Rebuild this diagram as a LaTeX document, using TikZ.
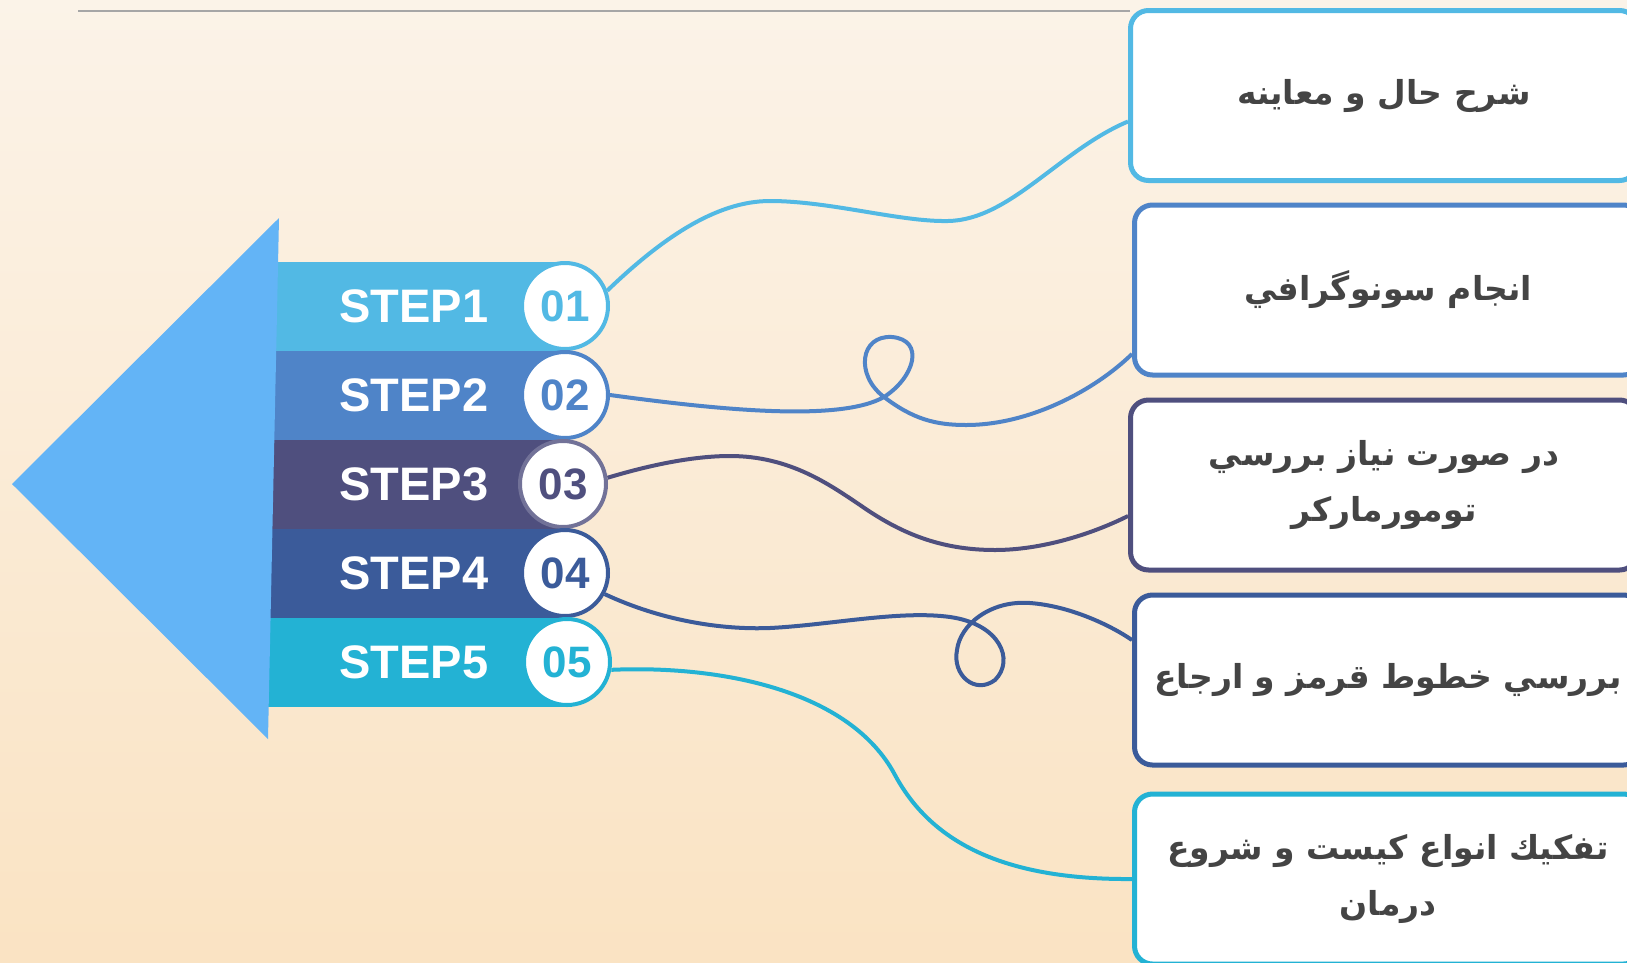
\documentclass[tikz,border=0pt]{standalone}
\usepackage{fontspec}
\setmainfont{Liberation Sans}
\newfontfamily\arabicfont[Script=Arabic]{DejaVu Sans}
\TeXXeTstate=1
\usetikzlibrary{calc}

\definecolor{stepA}{HTML}{52B9E4}
\definecolor{stepB}{HTML}{4F84C8}
\definecolor{stepC}{HTML}{4F4F7E}
\definecolor{stepD}{HTML}{3B5B9A}
\definecolor{stepE}{HTML}{23B2D4}
\definecolor{arrowblue}{HTML}{63B4F6}
\definecolor{cardtext}{HTML}{444444}
\definecolor{bgtop}{HTML}{FBF3E8}
\definecolor{bgbottom}{HTML}{FAE3C3}

\tikzset{
  bar/.style={shape=rectangle, fill=#1, minimum width=304, minimum height=89, inner sep=0,
    text=white, font=\bfseries\fontsize{47}{47}\selectfont},
  num/.style={shape=circle, draw=#1, fill=white, line width=4, minimum size=86, inner sep=0,
    text=#1, font=\bfseries\fontsize{44}{44}\selectfont},
  card/.style={shape=rectangle, draw=#1, fill=white, line width=5, rounded corners=18,
    minimum width=507, minimum height=170, inner sep=0, align=center, text=cardtext,
    font=\arabicfont\bfseries\fontsize{33}{56}\selectfont},
  wire/.style={draw=#1, line width=4}
}

\begin{document}
\begin{tikzpicture}[x=1pt, y=-1pt]
    \shade[top color=bgtop, bottom color=bgbottom] (0,0) rectangle (1627,962);
    \useasboundingbox (0,0) rectangle (1627,962);
    \draw[color=black!35, line width=2] (78,11) -- (1130,11);

                \node[bar=stepA] (s1) at (414,306) {STEP1};
                \node[bar=stepB] (s2) at (414,395) {STEP2};
                \node[bar=stepC] (s3) at (414,484) {STEP3};
                \node[bar=stepD] (s4) at (414,573) {STEP4};
                \node[bar=stepE] (s5) at (414,662) {STEP5};

                \fill[arrowblue] (279,218) -- (12,484) -- (268,739) -- cycle;

                \node[num=stepA] (n1) at (565,306) {01};
                \node[num=stepB] (n2) at (565,395) {02};
                \node[num=stepC!80!white] (n3) at (563,484) {\textcolor{stepC}{03}};
                \node[num=stepD] (n4) at (565,573) {04};
                \node[num=stepE] (n5) at (567,662) {05};

                \node[card=stepA] (b1) at (1384,95.5) {\beginR شرح حال و معاينه\endR};
                \node[card=stepB] (b2) at (1388,290) {\beginR انجام سونوگرافي\endR};
                \node[card=stepC] (b3) at (1384,485) {\beginR در صورت نياز بررسي\endR\\\beginR تومورماركر\endR};
                \node[card=stepD] (b4) at (1388,680) {\beginR بررسي خطوط قرمز و ارجاع\endR};
                \node[card=stepE] (b5) at (1388,879) {\beginR تفكيك انواع كيست و شروع\endR\\\beginR درمان\endR};

                \draw[wire=stepA] (n1.20) .. controls (660,240) and (715,201) .. (770,201)
                    .. controls (830,201) and (900,222) .. (948,221)
                    .. controls (1010,220) and (1060,150) .. ($(b1.west)+(0,26)$);
                \draw[wire=stepB] (n2.east) .. controls (720,410) and (840,422) .. (884,397)
                    .. controls (915,377) and (925,340) .. (892,337)
                    .. controls (860,335) and (855,375) .. (884,397)
                    .. controls (913,419) and (935,425) .. (966,425)
                    .. controls (1030,425) and (1095,390) .. ($(b2.west)+(0,64)$);
                \draw[wire=stepC] (n3.8) .. controls (660,462) and (700,456) .. (730,456)
                    .. controls (790,456) and (830,485) .. (860,505)
                    .. controls (900,533) and (940,550) .. (995,550)
                    .. controls (1040,550) and (1090,535) .. ($(b3.west)+(0,31)$);
                \draw[wire=stepD] (n4.-28) .. controls (660,620) and (720,630) .. (770,628)
                    .. controls (830,625) and (900,610) .. (950,617)
                    .. controls (1000,624) and (1015,660) .. (995,680)
                    .. controls (975,695) and (952,675) .. (957,650)
                    .. controls (960,625) and (990,600) .. (1030,603)
                    .. controls (1070,606) and (1110,625) .. ($(b4.west)+(0,-40)$);
                \draw[wire=stepE] (n5.-10) .. controls (720,665) and (850,690) .. (895,775)
                    .. controls (930,840) and (1000,880) .. (b5.west);

\end{tikzpicture}
\end{document}
